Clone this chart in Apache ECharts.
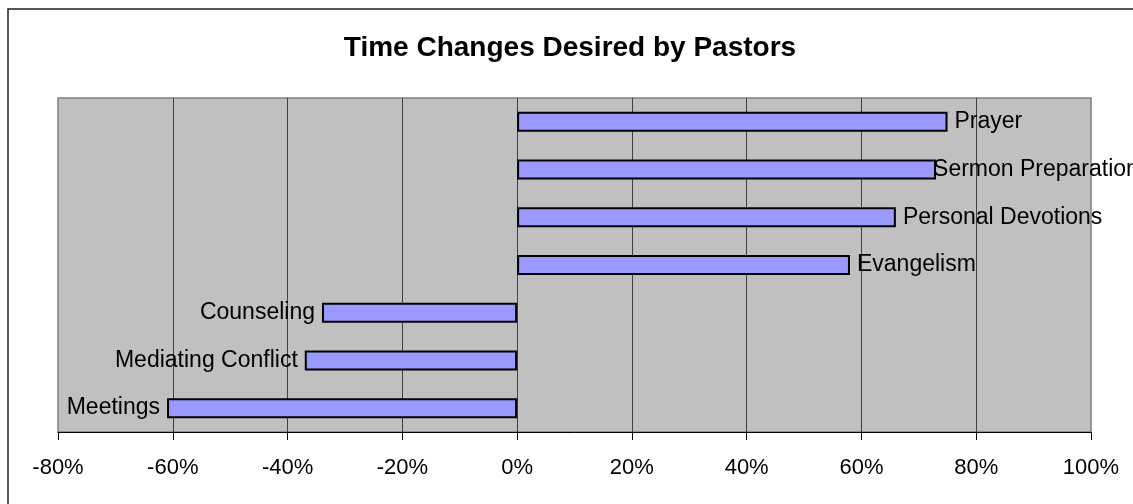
<!DOCTYPE html>
<html>
<head>
<meta charset="utf-8">
<script src="https://cdn.jsdelivr.net/npm/echarts@6/dist/echarts.min.js"></script>
<style>
  html, body { margin: 0; padding: 0; background: #fff; }
  #chart { width: 1133px; height: 504px; }
</style>
</head>
<body>
<div id="chart"></div>
<script>
// data
const categories = ['Prayer', 'Sermon Preparation', 'Personal Devotions', 'Evangelism', 'Counseling', 'Mediating Conflict', 'Meetings']
const changes = [75, 73, 66, 58, -34, -37, -61]
const tickMin = -80
const tickMax = 100
const tickStep = 20

const chart = echarts.init(document.getElementById('chart'))

// labels sit at the bar end; Excel nudged the long one left to keep it in frame
const seriesData = changes.map((v, i) => {
  const pos = v >= 0 ? 'right' : 'left'
  const item = { value: v, label: { position: pos } }
  if (categories[i] === 'Sermon Preparation') {
    item.label.distance = -3
  }
  return item
})

chart.setOption({
  animation: false,
  textStyle: { fontFamily: 'Liberation Sans, Arial, sans-serif' },
  title: {
    text: 'Time Changes Desired by Pastors',
    left: 565,
    top: 29,
    textAlign: 'center',
    textStyle: {
      fontFamily: 'Liberation Sans, Arial, sans-serif',
      fontSize: 28,
      fontWeight: 'bold',
      color: '#000',
    },
  },
  graphic: [
    {
      type: 'rect',
      shape: { x: 8, y: 9, width: 1300, height: 700 },
      style: { fill: 'none', stroke: '#222', lineWidth: 1.5 },
      z: 100,
    },
  ],
  grid: {
    left: 58,
    right: 42,
    top: 98,
    bottom: 72,
    show: true,
    backgroundColor: '#C0C0C0',
    borderColor: '#808080',
    borderWidth: 1.5,
  },
  xAxis: {
    type: 'value',
    min: tickMin,
    max: tickMax,
    interval: tickStep,
    axisLine: { show: true, onZero: false, lineStyle: { color: '#000', width: 1 } },
    axisTick: { show: true, length: 8, lineStyle: { color: '#000' } },
    axisLabel: {
      formatter: '{value}%',
      fontSize: 22,
      color: '#000',
      margin: 25,
    },
    splitLine: {
      show: true,
      showMinLine: false,
      showMaxLine: false,
      lineStyle: { color: '#404040', width: 1 },
    },
  },
  yAxis: {
    type: 'category',
    data: categories,
    inverse: true,
    axisLine: { show: false },
    axisTick: { show: false },
    axisLabel: { show: false },
    splitLine: { show: false },
  },
  series: [
    {
      type: 'bar',
      data: seriesData,
      barWidth: 20,
      itemStyle: {
        color: '#9999FF',
        borderColor: '#000',
        borderWidth: 2,
      },
      label: {
        show: true,
        formatter: '{b}',
        distance: 7,
        fontSize: 23,
        color: '#000',
      },
    },
  ],
})

window.addEventListener('resize', () => {
  chart.resize()
})
</script>
</body>
</html>
